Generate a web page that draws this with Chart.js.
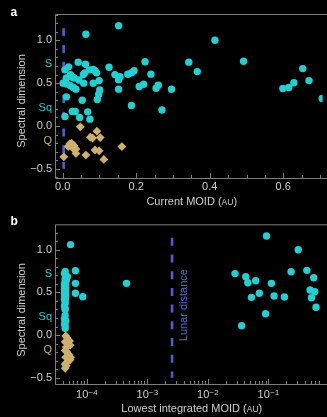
<!DOCTYPE html>
<html>
<head>
<meta charset="utf-8">
<script src="https://cdn.jsdelivr.net/npm/chart.js@4/dist/chart.umd.min.js"></script>
<style>
  html, body { margin: 0; padding: 0; background: #000; overflow: hidden; }
  #wrap { position: relative; width: 327px; height: 417px; background: #000; }
  canvas { position: absolute; left: 0; display: block; }
</style>
</head>
<body>
<div id="wrap">
  <canvas id="panelA" width="327" height="210" style="top:0"></canvas>
  <canvas id="panelB" width="327" height="207" style="top:210px"></canvas>
</div>
<script>
// ---- data: [MOID (AU), spectral dimension] ----
// a: current MOID
const sCurrentMoid = [
  [0.152, 1.17], [0.063, 1.07], [0.414, 1.00], [0.224, 0.75], [0.343, 0.745],
  [0.492, 0.755], [0.366, 0.635], [0.653, 0.67], [0.670, 0.53], [0.629, 0.505],
  [0.615, 0.45], [0.599, 0.437], [0.706, 0.32], [0.296, 0.428], [0.270, 0.187],
  [0.187, 0.24], [0.254, 0.44], [0.260, 0.475], [0.220, 0.487], [0.208, 0.46],
  [0.240, 0.605], [0.126, 0.685], [0.142, 0.60], [0.156, 0.575], [0.152, 0.54],
  [0.152, 0.43], [0.177, 0.603], [0.187, 0.62], [0.194, 0.645], [0.042, 0.745],
  [0.062, 0.72], [0.016, 0.69], [0.006, 0.655], [0.083, 0.66], [0.088, 0.645],
  [0.092, 0.62], [0.073, 0.655], [0.021, 0.60], [0.026, 0.57], [0.031, 0.56],
  [0.044, 0.537], [0.056, 0.60], [0.060, 0.62], [0.001, 0.50], [0.011, 0.49],
  [0.021, 0.47], [0.029, 0.45], [0.036, 0.43], [0.057, 0.50], [0.083, 0.50],
  [0.099, 0.53], [0.101, 0.42], [0.098, 0.37], [0.094, 0.31], [0.053, 0.30],
  [0.010, 0.34], [0.026, 0.17], [0.034, 0.17], [0.006, 0.11], [0.046, 0.10],
  [0.068, 0.165], [0.074, 0.08], [0.010, 0.56]
];
const qCurrentMoid = [
  [0.048, -0.01], [0.093, -0.06], [0.075, -0.13], [0.081, -0.14], [0.102, -0.135],
  [0.161, -0.24], [0.019, -0.21], [0.024, -0.20], [0.031, -0.23], [0.015, -0.24],
  [0.036, -0.27], [0.036, -0.32], [0.003, -0.36], [0.063, -0.34], [0.088, -0.28],
  [0.099, -0.29], [0.112, -0.39], [0.028, -0.26]
];
// b: lowest integrated MOID
const sLowestMoid = [
  [4.4e-5, 0.745], [4.3e-5, 0.72], [4.6e-5, 0.69], [4.8e-5, 0.685], [4.5e-5, 0.66],
  [4.4e-5, 0.655], [4.6e-5, 0.645], [4.4e-5, 0.62], [4.3e-5, 0.60], [4.5e-5, 0.60],
  [4.4e-5, 0.575], [4.3e-5, 0.57], [4.5e-5, 0.56], [4.4e-5, 0.54], [4.3e-5, 0.537],
  [4.5e-5, 0.53], [4.4e-5, 0.50], [4.3e-5, 0.49], [4.4e-5, 0.475], [4.5e-5, 0.46],
  [4.3e-5, 0.45], [4.4e-5, 0.44], [4.4e-5, 0.43], [4.3e-5, 0.42], [4.4e-5, 0.40],
  [4.4e-5, 0.37], [4.3e-5, 0.34], [4.4e-5, 0.31], [4.4e-5, 0.30],
  [4.4e-5, 0.23], [4.3e-5, 0.19], [4.4e-5, 0.17], [4.5e-5, 0.165], [4.3e-5, 0.13],
  [4.4e-5, 0.11], [4.4e-5, 0.08],
  [5.4e-5, 1.06], [6.5e-5, 0.754], [6.5e-5, 0.606], [6.5e-5, 0.489], [8.6e-5, 0.449],
  [4.54e-4, 0.606],
  [0.0935, 1.16], [0.313, 1.00], [0.0282, 0.72], [0.0425, 0.684], [0.0459, 0.613],
  [0.0619, 0.637], [0.1127, 0.606], [0.238, 0.742], [0.434, 0.758], [0.563, 0.672],
  [0.0711, 0.489], [0.0527, 0.442], [0.1247, 0.457], [0.185, 0.445], [0.491, 0.527],
  [0.585, 0.508], [0.518, 0.437], [0.615, 0.325], [0.0902, 0.25], [0.0362, 0.109]
];
const qLowestMoid = [
  [4.5e-5, -0.01], [4.7e-5, -0.03], [5.2e-5, -0.07], [4.4e-5, -0.08], [5.3e-5, -0.12],
  [4.6e-5, -0.14], [4.4e-5, -0.18], [4.7e-5, -0.20], [5.1e-5, -0.23], [5.4e-5, -0.26],
  [4.5e-5, -0.26], [5.3e-5, -0.29], [4.8e-5, -0.31], [4.4e-5, -0.34], [4.6e-5, -0.36],
  [4.4e-5, -0.39]
];
const lunarDistanceAU = 0.00257;
const lunarLineSpan = [1.14, -0.5];

// ---- axes ----
const yMajorTicks = [-0.5, 0, 0.5, 1.0];
const classNames = ['S', 'Sq', 'Q'];
const classLevels = [0.72, 0.21, -0.18];
const xTicksCurrent = [0, 0.2, 0.4, 0.6];
const logDecades = [-4, -3, -2, -1];

// ---- style ----
const FONT = '"Liberation Sans", Arial, sans-serif';
const TEXT = '#cfcfcf';
const AXIS = '#7d7d7d';
const CYAN = '#22d0d2';
const GOLD = '#ceb06c';
const LUNAR = '#5858d8';
const LUNAR_TEXT = '#6262dc';
const classColors = [CYAN, CYAN, GOLD];

const toPts = arr => arr.map(([x, y]) => ({ x, y }));
const near = (a, b) => Math.abs(a - b) < 1e-6;
const minus = s => s.replace('-', '\u2212');

function classIndex(v) { return classLevels.findIndex(c => near(c, v)); }

function yAxis(min, max) {
  return {
    type: 'linear', min, max,
    afterBuildTicks: s => {
      s.ticks = yMajorTicks.concat(classLevels).sort((a, b) => a - b).map(v => ({ value: v }));
    },
    afterFit: s => { s.width = 55; },
    grid: { display: false, drawTicks: false },
    border: { display: false },
    ticks: {
      autoSkip: false, padding: 3,
      font: { family: FONT, size: 11 },
      color: ctx => { const i = classIndex(ctx.tick.value); return i >= 0 ? classColors[i] : TEXT; },
      callback: v => { const i = classIndex(v); return i >= 0 ? classNames[i] : minus(v.toFixed(1)); }
    }
  };
}

function datasets(sPts, qPts, yTop, yBottom) {
  return [
    { data: toPts(sPts), pointStyle: 'circle', pointRadius: 3.7, backgroundColor: CYAN, borderWidth: 0, order: 1 },
    { data: toPts(qPts), pointStyle: 'rectRot', pointRadius: 4.4, backgroundColor: GOLD, borderWidth: 0, order: 2 },
    { data: [{ x: lunarDistanceAU, y: yTop }, { x: lunarDistanceAU, y: yBottom }],
      showLine: true, pointRadius: 0, borderColor: LUNAR, borderWidth: 2.6, borderDash: [8, 8.7], order: 3 }
  ];
}

function drawTickMark(ctx, x1, y1, x2, y2) {
  ctx.beginPath(); ctx.moveTo(x1, y1); ctx.lineTo(x2, y2); ctx.stroke();
}

// frame, inward ticks and text for one panel
function decorPlugin(spec) {
  return {
    id: 'panelDecor',
    afterDraw(chart) {
      const { ctx, chartArea: a, scales: { x, y } } = chart;
      ctx.save();
      ctx.strokeStyle = AXIS;
      ctx.lineWidth = 1;
      // left, top and bottom edges of the frame
      ctx.beginPath();
      ctx.moveTo(a.right + 5, a.top + 0.5);
      ctx.lineTo(a.left + 0.5, a.top + 0.5);
      ctx.lineTo(a.left + 0.5, a.bottom + 0.5);
      ctx.lineTo(a.right + 5, a.bottom + 0.5);
      ctx.stroke();

      // y ticks every 0.1, longer at the labelled values
      for (let i = -6; i <= 13; i++) {
        const v = i / 10;
        if (v < y.min || v > y.max) continue;
        const py = Math.round(y.getPixelForValue(v)) + 0.5;
        const len = yMajorTicks.some(m => near(m, v)) ? 5 : 3;
        drawTickMark(ctx, a.left, py, a.left + len, py);
      }
      // x ticks
      spec.xTicks(x).forEach(([v, major]) => {
        const px = Math.round(x.getPixelForValue(v)) + 0.5;
        drawTickMark(ctx, px, a.bottom, px, a.bottom - (major ? 5 : 3));
      });

      // panel letter
      ctx.fillStyle = '#ffffff';
      ctx.font = `bold 12px ${FONT}`;
      ctx.textAlign = 'left';
      ctx.textBaseline = 'alphabetic';
      ctx.fillText(spec.letter, 10.5, spec.letterBase);

      // y title
      ctx.fillStyle = TEXT;
      ctx.font = `11px ${FONT}`;
      ctx.save();
      ctx.translate(25.3, spec.yTitleCenter);
      ctx.rotate(-Math.PI / 2);
      ctx.textAlign = 'center';
      ctx.fillText('Spectral dimension', 0, 0);
      ctx.restore();

      // x title with small-capital unit
      const parts = [[spec.xTitle + ' (', 11], ['AU', 8.6], [')', 11]];
      let total = 0;
      parts.forEach(p => { ctx.font = `${p[1]}px ${FONT}`; p.w = ctx.measureText(p[0]).width; total += p.w; });
      let tx = (a.left + a.right) / 2 + 3 - total / 2;
      ctx.textAlign = 'left';
      parts.forEach(p => { ctx.font = `${p[1]}px ${FONT}`; ctx.fillText(p[0], tx, spec.xTitleBase); tx += p.w; });

      if (spec.extra) spec.extra(ctx, a, x, y);
      ctx.restore();
    }
  };
}

const common = {
  type: 'scatter',
  options: null
};

function baseOptions(xScale, yScale, topPad) {
  return {
    responsive: false,
    animation: false,
    events: [],
    layout: { padding: { top: topPad, left: 0, right: 0, bottom: 0 } },
    plugins: { legend: { display: false }, tooltip: { enabled: false } },
    scales: { x: xScale, y: yScale }
  };
}

// ---- panel a ----
new Chart(document.getElementById('panelA'), {
  type: 'scatter',
  data: { datasets: datasets(sCurrentMoid, qCurrentMoid, lunarLineSpan[0], lunarLineSpan[1]) },
  options: baseOptions({
    type: 'linear', min: -0.021, max: 0.707,
    afterBuildTicks: s => { s.ticks = xTicksCurrent.map(v => ({ value: v })); },
    afterFit: s => { s.height = 32; },
    grid: { display: false, drawTicks: false },
    border: { display: false },
    ticks: {
      autoSkip: false, maxRotation: 0, padding: 2,
      font: { family: FONT, size: 11 }, color: TEXT,
      callback: v => v.toFixed(1)
    }
  }, yAxis(-0.607, 1.307), 14),
  plugins: [decorPlugin({
    letter: 'a', letterBase: 15.5,
    yTitleCenter: 101, xTitle: 'Current MOID', xTitleBase: 205,
    xTicks: x => {
      const out = [];
      for (let i = 0; i <= 14; i++) {
        const v = i * 0.05;
        if (v <= x.max) out.push([v, i % 4 === 0]);
      }
      return out;
    }
  })]
});

// ---- panel b ----
new Chart(document.getElementById('panelB'), {
  type: 'scatter',
  data: { datasets: datasets(sLowestMoid, qLowestMoid, lunarLineSpan[0], lunarLineSpan[1]) },
  options: baseOptions({
    type: 'logarithmic', min: 2.99e-5, max: 0.79,
    afterBuildTicks: s => { s.ticks = logDecades.map(e => ({ value: Math.pow(10, e) })); },
    afterFit: s => { s.height = 33; },
    grid: { display: false, drawTicks: false },
    border: { display: false },
    ticks: { display: false }
  }, yAxis(-0.574, 1.298), 14.3),
  plugins: [decorPlugin({
    letter: 'b', letterBase: 15,
    yTitleCenter: 100, xTitle: 'Lowest integrated MOID', xTitleBase: 202,
    xTicks: x => {
      const out = [];
      for (let e = -5; e <= -1; e++) {
        for (let m = 1; m <= 9; m++) {
          const v = m * Math.pow(10, e);
          if (v >= x.min && v <= x.max) out.push([v, m === 1]);
        }
      }
      return out;
    },
    extra: (ctx, a, x, y) => {
      // decade labels, 10 with a raised exponent
      ctx.fillStyle = TEXT;
      ctx.textAlign = 'left';
      logDecades.forEach(e => {
        const px = x.getPixelForValue(Math.pow(10, e));
        const exp = minus(String(e));
        ctx.font = `11px ${FONT}`;
        const w1 = ctx.measureText('10').width;
        ctx.font = `8px ${FONT}`;
        const w2 = ctx.measureText(exp).width;
        const x0 = px - (w1 + w2) / 2;
        ctx.font = `11px ${FONT}`;
        ctx.fillText('10', x0, a.bottom + 13.7);
        ctx.font = `8px ${FONT}`;
        ctx.fillText(exp, x0 + w1 + 0.3, a.bottom + 10.8);
      });
      // lunar distance label beside the dashed line
      ctx.fillStyle = LUNAR_TEXT;
      ctx.font = `11px ${FONT}`;
      ctx.save();
      ctx.translate(x.getPixelForValue(lunarDistanceAU) + 14.5, (a.top + a.bottom) / 2 + 1);
      ctx.rotate(-Math.PI / 2);
      ctx.textAlign = 'center';
      ctx.fillText('Lunar distance', 0, 0);
      ctx.restore();
    }
  })]
});
</script>
</body>
</html>
